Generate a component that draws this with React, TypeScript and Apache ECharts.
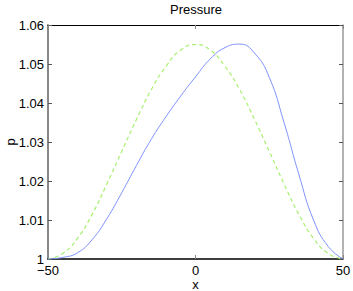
import React, { useEffect, useRef } from "react";
import * as echarts from "echarts";

const xs = [-50, -45, -40, -35, -30, -25, -20, -15, -10, -5, 0, 5, 10, 15, 20, 25, 30, 35, 40, 45, 50];
const pressureSolid = [1.0, 1.0004, 1.0016, 1.005, 1.0104, 1.017, 1.024, 1.0307, 1.0365, 1.0418, 1.0467, 1.0513, 1.0542, 1.0551, 1.0528, 1.0466, 1.035, 1.0218, 1.01, 1.0032, 1.0];
const pressureDashed = [1.0, 1.0014, 1.0053, 1.0115, 1.0193, 1.0276, 1.0358, 1.0434, 1.0494, 1.0536, 1.055, 1.0536, 1.0494, 1.0434, 1.0358, 1.0276, 1.0193, 1.0115, 1.0053, 1.0014, 1.0];
const xTicks = [-50, 0, 50];
const yTicks = [1, 1.01, 1.02, 1.03, 1.04, 1.05, 1.06];

const FONT = "'Liberation Sans', Arial, Helvetica, sans-serif";

export default function App() {
  const ref = useRef<HTMLDivElement>(null);
  useEffect(() => {
    document.body.style.margin = "0";
    const chart = echarts.init(ref.current!, null, { renderer: "svg" });
    const solid = xs.map((x, i) => [x, pressureSolid[i]]);
    const dashed = xs.map((x, i) => [x, pressureDashed[i]]);
    const xLabel = (v: number) => (v < 0 ? "\u2212" + Math.abs(v) : String(v));
    const yLabel = (v: number) => String(+v.toFixed(2));
    chart.setOption({
      animation: false,
      backgroundColor: "#ffffff",
      title: {
        text: "Pressure",
        left: 196,
        textAlign: "center",
        top: 3,
        padding: 0,
        textStyle: { fontFamily: FONT, fontSize: 13, fontWeight: "normal", color: "#000" },
      },
      grid: { left: 48, right: 10, top: 25, bottom: 32, containLabel: false, outerBoundsMode: "none" },
      xAxis: [
        {
          type: "value",
          min: xTicks[0],
          max: xTicks[xTicks.length - 1],
          interval: 50,
          position: "bottom",
          name: "x",
          nameLocation: "middle",
          nameGap: 19,
          nameMoveOverlap: false,
          nameTextStyle: { fontFamily: FONT, fontSize: 13, lineHeight: 13, color: "#000" },
          axisLine: { show: true, onZero: false, lineStyle: { color: "#000", width: 1.5 } },
          axisTick: { show: true, inside: true, length: 4, lineStyle: { color: "#888", width: 1 } },
          axisLabel: { fontFamily: FONT, fontSize: 13, lineHeight: 13, color: "#000", margin: 5, formatter: xLabel },
          splitLine: { show: false },
        },
        {
          type: "value",
          min: xTicks[0],
          max: xTicks[xTicks.length - 1],
          interval: 50,
          position: "top",
          axisLine: { show: true, onZero: false, lineStyle: { color: "#000", width: 1 } },
          axisTick: { show: true, inside: true, length: 4, lineStyle: { color: "#888", width: 1 } },
          axisLabel: { show: false },
          splitLine: { show: false },
        },
      ],
      yAxis: [
        {
          type: "value",
          min: yTicks[0],
          max: yTicks[yTicks.length - 1],
          interval: 0.01,
          position: "left",
          name: "p",
          nameLocation: "middle",
          nameGap: 31,
          nameMoveOverlap: false,
          nameRotate: 90,
          nameTextStyle: { fontFamily: FONT, fontSize: 13, color: "#000" },
          axisLine: { show: true, onZero: false, lineStyle: { color: "#888", width: 2 } },
          axisTick: { show: true, inside: true, length: 4, lineStyle: { color: "#555", width: 1 } },
          axisLabel: { fontFamily: FONT, fontSize: 13, color: "#000", margin: 4, formatter: yLabel },
          splitLine: { show: false },
        },
        {
          type: "value",
          min: yTicks[0],
          max: yTicks[yTicks.length - 1],
          interval: 0.01,
          position: "right",
          axisLine: { show: true, onZero: false, lineStyle: { color: "#999", width: 1.5 } },
          axisTick: { show: true, inside: true, length: 4, lineStyle: { color: "#555", width: 1 } },
          axisLabel: { show: false },
          splitLine: { show: false },
        },
      ],
      series: [
        {
          type: "line",
          data: dashed,
          smooth: true,
          showSymbol: false,
          lineStyle: { color: "#a8f070", width: 1.2, type: [4, 3] },
        },
        {
          type: "line",
          data: solid,
          smooth: true,
          showSymbol: false,
          lineStyle: { color: "#7f92ff", width: 1 },
        },
      ],
    });
    return () => chart.dispose();
  }, []);
  return <div ref={ref} style={{ width: 353, height: 291 }} />;
}
